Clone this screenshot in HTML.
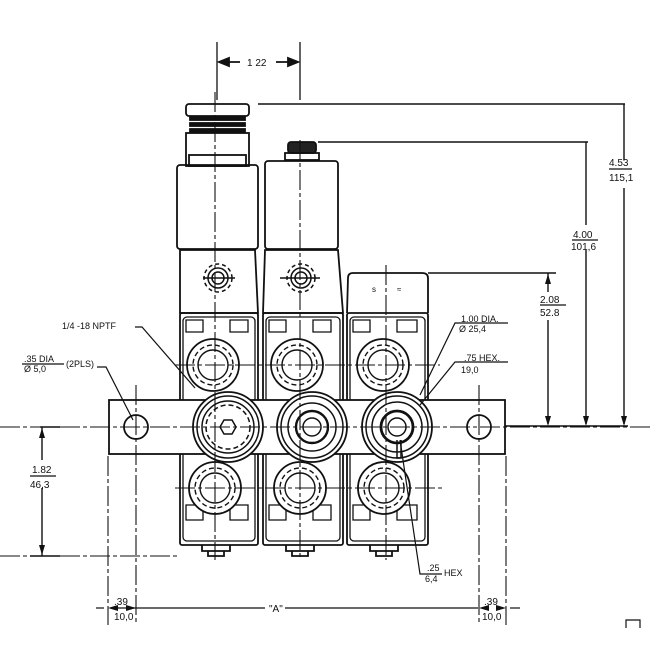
<!DOCTYPE html>
<html><head><style>html,body{margin:0;padding:0;background:#fff}svg{display:block}</style></head><body>
<svg width="650" height="650" viewBox="0 0 650 650" xmlns="http://www.w3.org/2000/svg" font-family="Liberation Sans, sans-serif" fill="none" stroke="#111" stroke-width="1.8">
<!-- top dimension 1.22 -->
<line x1="217" y1="42" x2="217" y2="100" stroke-width="1.3"/>
<line x1="300" y1="42" x2="300" y2="100" stroke-width="1.3"/>
<line x1="220" y1="62" x2="240" y2="62"/><polygon points="219,62 229,58 229,66" fill="#111"/>
<line x1="276" y1="62" x2="297" y2="62"/><polygon points="298,62 288,58 288,66" fill="#111"/>
<text x="247" y="66" font-size="10" fill="#111" stroke="none">1 22</text>

<!-- left valve top -->
<rect x="186" y="104" width="63" height="12" rx="3"/>
<rect x="190" y="117" width="55" height="3" fill="#111"/>
<rect x="190" y="123" width="55" height="3" fill="#111"/>
<rect x="190" y="129" width="55" height="3" fill="#111"/>
<rect x="186" y="133" width="63" height="33"/>
<rect x="189" y="155" width="57" height="11"/>
<rect x="177" y="165" width="81" height="84" rx="3"/>
<path d="M180,250 L255,250 L258,313 L180,313 Z"/>
<!-- middle valve top -->
<rect x="288" y="142" width="28" height="11" rx="3" fill="#222"/>
<rect x="285" y="153" width="34" height="7"/>
<rect x="265" y="161" width="73" height="88" rx="3"/>
<path d="M265,250 L338,250 L343,313 L263,313 Z"/>
<!-- right module top -->
<path d="M347,313 L348,278 Q348,273 353,273 L422,273 Q428,273 428,278 L428,313"/>
<text x="372" y="292" font-size="8" fill="#111" stroke="none">s</text>
<text x="397" y="292" font-size="8" fill="#111" stroke="none">≈</text>

<!-- small ports on upper block -->
<g stroke-width="1.5">
<circle cx="218" cy="278" r="10"/><circle cx="218" cy="278" r="14" stroke-dasharray="4 3"/><circle cx="218" cy="278" r="6"/>
<circle cx="301" cy="278" r="10"/><circle cx="301" cy="278" r="14" stroke-dasharray="4 3"/><circle cx="301" cy="278" r="6"/>
<line x1="203" y1="278" x2="235" y2="278"/><line x1="280" y1="278" x2="320" y2="278"/>
</g>

<!-- lower bodies -->
<g>
<rect x="180" y="313" width="78" height="232" rx="2"/>
<rect x="263" y="313" width="80" height="232" rx="2"/>
<rect x="347" y="313" width="81" height="232" rx="2"/>
<rect x="183" y="317" width="72" height="224" rx="4" stroke-width="1.3"/>
<rect x="266" y="317" width="74" height="224" rx="4" stroke-width="1.3"/>
<rect x="350" y="317" width="75" height="224" rx="4" stroke-width="1.3"/>
<path d="M186,320 h17 v12 h-17 Z M230,320 h18 v12 h-18 Z M269,320 h17 v12 h-17 Z M313,320 h18 v12 h-18 Z M353,320 h17 v12 h-17 Z M397,320 h20 v12 h-20 Z" stroke-width="1.3"/>
<path d="M186,520 h17 v-15 h-17 Z M230,520 h18 v-15 h-18 Z M269,520 h17 v-15 h-17 Z M313,520 h18 v-15 h-18 Z M353,520 h17 v-15 h-17 Z M397,520 h20 v-15 h-20 Z" stroke-width="1.3"/>
<path d="M202,545 v6 h28 v-6 M208,551 v5 h16 v-5"/>
<path d="M286,545 v6 h28 v-6 M292,551 v5 h16 v-5"/>
<path d="M370,545 v6 h28 v-6 M376,551 v5 h16 v-5"/>
</g>

<g fill="#fff">
<circle cx="213" cy="365" r="26"/><circle cx="297" cy="365" r="26"/><circle cx="383" cy="365" r="26"/>
</g>
<g stroke-width="1.4">
<circle cx="213" cy="365" r="20" stroke-dasharray="5 3"/><circle cx="213" cy="365" r="15"/>
<circle cx="297" cy="365" r="20" stroke-dasharray="5 3"/><circle cx="297" cy="365" r="15"/>
<circle cx="383" cy="365" r="20" stroke-dasharray="5 3"/><circle cx="383" cy="365" r="15"/>
</g>
<g fill="#fff">
<circle cx="215" cy="488" r="26"/><circle cx="300" cy="488" r="26"/><circle cx="384" cy="488" r="26"/>
</g>
<g stroke-width="1.4">
<circle cx="215" cy="488" r="20" stroke-dasharray="5 3"/><circle cx="215" cy="488" r="15"/>
<circle cx="300" cy="488" r="20" stroke-dasharray="5 3"/><circle cx="300" cy="488" r="15"/>
<circle cx="384" cy="488" r="20" stroke-dasharray="5 3"/><circle cx="384" cy="488" r="15"/>
</g>

<rect x="109" y="400" width="396" height="54" fill="#fff"/>
<circle cx="136" cy="427" r="12"/><circle cx="479" cy="427" r="12"/>
<g fill="#fff">
<circle cx="228" cy="427" r="35"/><circle cx="312" cy="427" r="35"/><circle cx="397" cy="427" r="35"/>
</g>
<g stroke-width="1.5">
<circle cx="228" cy="427" r="31"/><circle cx="228" cy="427" r="26"/><circle cx="228" cy="427" r="22" stroke-dasharray="5 3"/>
<polygon points="236,427 232,434 224,434 220,427 224,420 232,420"/>
<circle cx="312" cy="427" r="31"/><circle cx="312" cy="427" r="24"/><circle cx="312" cy="427" r="16" stroke-width="2.4"/><circle cx="312" cy="427" r="9"/>
<circle cx="397" cy="427" r="31"/><circle cx="397" cy="427" r="25"/><circle cx="397" cy="427" r="16" stroke-width="2.8"/><circle cx="397" cy="427" r="9"/>
<path d="M397,440 v18 h4 v-18"/>
</g>

<g stroke-width="1.1" stroke-dasharray="20 3 4 3">
<line x1="215" y1="92" x2="215" y2="560"/>
<line x1="300" y1="140" x2="300" y2="560"/>
<line x1="386" y1="265" x2="386" y2="560"/>
<line x1="0" y1="427" x2="650" y2="427"/>
<line x1="175" y1="365" x2="440" y2="365"/>
<line x1="175" y1="488" x2="445" y2="488"/>
<line x1="136" y1="385" x2="136" y2="625"/>
<line x1="479" y1="385" x2="479" y2="625"/>
<line x1="108" y1="456" x2="108" y2="625"/>
<line x1="506" y1="456" x2="506" y2="625"/>
<line x1="0" y1="556" x2="180" y2="556"/>
</g>

<g stroke-width="1.4">
<line x1="258" y1="104" x2="625" y2="104"/>
<line x1="318" y1="142" x2="588" y2="142"/>
<line x1="428" y1="273" x2="556" y2="273"/>
<line x1="505" y1="426" x2="628" y2="426"/>
<line x1="624" y1="104" x2="624" y2="160"/><line x1="624" y1="188" x2="624" y2="424"/>
<line x1="586" y1="142" x2="586" y2="225"/><line x1="586" y1="250" x2="586" y2="424"/>
<line x1="548" y1="273" x2="548" y2="292"/><line x1="548" y1="320" x2="548" y2="424"/>
<line x1="42" y1="427" x2="42" y2="460"/><line x1="42" y1="488" x2="42" y2="556"/>
<line x1="30" y1="556" x2="60" y2="556"/><line x1="40" y1="427" x2="60" y2="427"/>
</g>
<g fill="#111" stroke="none">
<polygon points="624,426 621,416 627,416"/><polygon points="586,426 583,416 589,416"/><polygon points="548,426 545,416 551,416"/><polygon points="548,274 545,284 551,284"/>
<polygon points="42,428 39,438 45,438"/><polygon points="42,555 39,545 45,545"/>
</g>
<g fill="#111" stroke="none" font-size="10">
<text x="609" y="166">4.53</text><text x="609" y="181">115,1</text>
<text x="573" y="238">4.00</text><text x="571" y="250">101,6</text>
<text x="540" y="303">2.08</text><text x="540" y="316">52.8</text>
<text x="32" y="473">1.82</text><text x="30" y="488">46,3</text>
<text x="461" y="322" font-size="9">1.00 DIA.</text><text x="459" y="332" font-size="9">Ø 25,4</text>
<text x="464" y="361" font-size="9">.75 HEX.</text><text x="461" y="373" font-size="9">19,0</text>
<text x="62" y="329" font-size="9">1/4 -18 NPTF</text>
<text x="24" y="362" font-size="9">.35 DIA</text><text x="24" y="372" font-size="9">Ø 5,0</text><text x="66" y="367" font-size="9">(2PLS)</text>
<text x="427" y="571" font-size="9">.25</text><text x="425" y="582" font-size="9">6,4</text><text x="444" y="576" font-size="9">HEX</text>
<text x="114" y="605" font-size="10">.39</text><text x="114" y="620" font-size="10">10,0</text>
<text x="484" y="605" font-size="10">.39</text><text x="482" y="620" font-size="10">10,0</text>
<text x="269" y="612" font-size="10">"A"</text>
</g>
<g stroke-width="1.2">
<line x1="462" y1="323" x2="508" y2="323"/><line x1="462" y1="362" x2="508" y2="362"/>
<line x1="540" y1="305" x2="566" y2="305"/><line x1="609" y1="169" x2="632" y2="169"/><line x1="572" y1="240" x2="598" y2="240"/>
<line x1="30" y1="476" x2="56" y2="476"/>
<line x1="22" y1="364" x2="64" y2="364"/>
<path d="M135,327 L142,327 L195,388"/>
<path d="M97,367 L106,367 L133,420"/>
<path d="M462,323 L455,323 L420,395"/>
<path d="M462,362 L455,362 L420,405"/>
<path d="M424,574 L420,574 L400,440"/>
<line x1="424" y1="574" x2="442" y2="574"/>
<line x1="112" y1="608" x2="265" y2="608"/><line x1="285" y1="608" x2="478" y2="608"/>
<line x1="104" y1="608" x2="96" y2="608"/><line x1="510" y1="608" x2="520" y2="608"/>
<path d="M626,628 V620 H640 V628"/>
</g>
<g fill="#111" stroke="none"><polygon points="108,608 118,605 118,611"/><polygon points="136,608 126,605 126,611"/><polygon points="479,608 489,605 489,611"/><polygon points="506,608 496,605 496,611"/></g>
</svg>
</body></html>
